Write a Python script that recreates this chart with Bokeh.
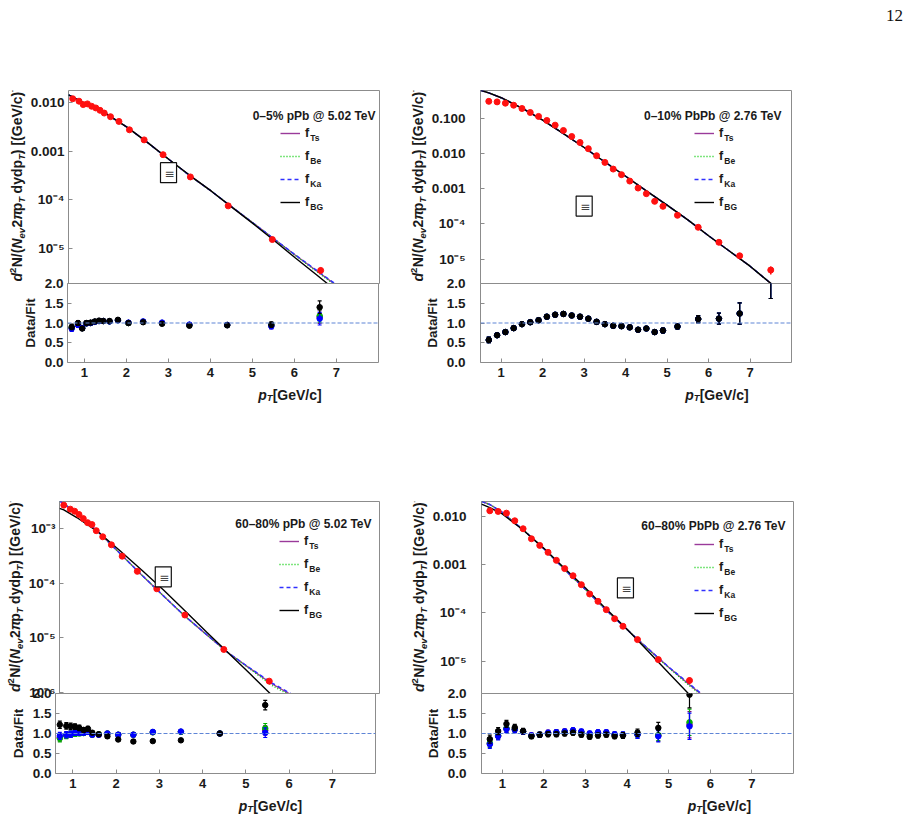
import math
from bokeh.plotting import figure
from bokeh.models import (Range1d, FixedTicker, PrintfTickFormatter, Label, Legend,
                          LegendItem, Span, Div, Spacer)
from bokeh.layouts import column, row
from bokeh.embed import file_html
from bokeh.resources import INLINE
from bokeh.core.validation import silence
from bokeh.core.validation.warnings import MISSING_RENDERERS

silence(MISSING_RENDERERS, True)

# ---------------------------------------------------------------- data
# Panel 1 : 0-5% pPb @ 5.02 TeV
p1_pt = [0.7, 0.85, 0.95, 1.05, 1.15, 1.25, 1.35, 1.45, 1.6, 1.8, 2.05, 2.4, 2.85, 3.5, 4.4, 5.45, 6.6]
p1_yield = [1.18e-2, 1.05e-2, 8.95e-3, 9.25e-3, 8.26e-3, 7.63e-3, 6.83e-3, 6.0e-3, 5.05e-3,
            4.04e-3, 2.72e-3, 1.69e-3, 8.4e-4, 2.94e-4, 7.5e-5, 1.53e-5, 3.56e-6]
p1_relerr = [0.05, 0.05, 0.05, 0.05, 0.05, 0.05, 0.05, 0.05, 0.05, 0.05, 0.05, 0.05, 0.05, 0.05, 0.06, 0.08, 0.15]
p1_fit_pt = [0.6, 1.0, 1.5, 2.0, 2.5, 3.0, 3.5, 4.0, 4.5, 5.0, 5.5, 6.0, 6.5, 7.0]
p1_fit_ts = [1.42e-2, 9.3e-3, 5.75e-3, 3.05e-3, 1.45e-3, 6.6e-4, 3.05e-4, 1.5e-4, 7.0e-5, 3.3e-5, 1.55e-5, 7.3e-6, 3.5e-6, 1.7e-6]
p1_fit_be = [1.42e-2, 9.3e-3, 5.75e-3, 3.05e-3, 1.45e-3, 6.6e-4, 3.05e-4, 1.5e-4, 7.0e-5, 3.3e-5, 1.55e-5, 7.2e-6, 3.4e-6, 1.65e-6]
p1_fit_ka = [1.42e-2, 9.3e-3, 5.75e-3, 3.05e-3, 1.45e-3, 6.6e-4, 3.05e-4, 1.5e-4, 7.0e-5, 3.3e-5, 1.55e-5, 7.4e-6, 3.6e-6, 1.75e-6]
p1_fit_bg = [1.42e-2, 9.3e-3, 5.75e-3, 3.05e-3, 1.45e-3, 6.6e-4, 3.1e-4, 1.5e-4, 6.9e-5, 3.2e-5, 1.45e-5, 6.4e-6, 2.9e-6, 1.3e-6]
p1_ratio_ts = [0.87, 0.96, 0.87, 0.99, 1.0, 1.03, 1.05, 1.05, 1.04, 1.07, 1.0, 1.03, 1.0, 0.95, 0.95, 0.93, 1.15]
p1_ratio_be = [0.88, 0.97, 0.87, 0.99, 1.0, 1.03, 1.05, 1.05, 1.04, 1.07, 1.0, 1.03, 1.0, 0.95, 0.95, 0.94, 1.18]
p1_ratio_ka = [0.86, 0.95, 0.87, 0.99, 1.0, 1.03, 1.05, 1.05, 1.04, 1.07, 1.01, 1.04, 1.01, 0.96, 0.95, 0.92, 1.11]
p1_ratio_bg = [0.90, 1.0, 0.86, 1.0, 1.01, 1.04, 1.06, 1.05, 1.05, 1.08, 1.0, 1.02, 0.98, 0.93, 0.94, 0.96, 1.40]
p1_ratio_err = [0.07, 0.06, 0.05, 0.05, 0.05, 0.04, 0.04, 0.04, 0.04, 0.04, 0.04, 0.04, 0.04, 0.04, 0.04, 0.07, 0.16]

# Panel 2 : 0-10% PbPb @ 2.76 TeV
p2_pt = [0.7, 0.9, 1.1, 1.3, 1.5, 1.7, 1.9, 2.1, 2.3, 2.5, 2.7, 2.9, 3.1, 3.3, 3.5, 3.7, 3.9,
         4.1, 4.3, 4.5, 4.7, 4.9, 5.25, 5.75, 6.25, 6.75, 7.5]
p2_yield = [0.30, 0.29, 0.266, 0.233, 0.188, 0.145, 0.112, 0.086, 0.0634, 0.0447, 0.0302, 0.0204,
            0.0136, 0.0086, 0.00556, 0.00359, 0.00249, 0.00164, 0.00104, 7.2e-4, 4.36e-4, 3.15e-4,
            1.75e-4, 8.0e-5, 3.0e-5, 1.24e-5, 4.9e-6]
p2_relerr = [0.12, 0.04, 0.04, 0.04, 0.04, 0.04, 0.04, 0.04, 0.04, 0.04, 0.04, 0.04, 0.04, 0.04,
             0.04, 0.04, 0.04, 0.04, 0.05, 0.05, 0.06, 0.06, 0.06, 0.08, 0.1, 0.15, 0.25]
p2_fit_pt = [0.5, 0.7, 1.0, 1.5, 2.0, 2.5, 3.0, 3.5, 4.0, 4.5, 5.0, 5.5, 6.0, 6.5, 7.0, 7.5, 7.7]
p2_fit_all = [0.62, 0.52, 0.38, 0.194, 0.088, 0.0363, 0.0147, 0.0057, 0.00224, 8.6e-4, 3.4e-4,
              1.3e-4, 4.6e-5, 1.7e-5, 6.3e-6, 2.05e-6, 1.3e-6]
p2_ratio_all = [0.57, 0.69, 0.77, 0.87, 0.97, 1.02, 1.07, 1.16, 1.21, 1.23, 1.19, 1.16, 1.11, 1.03,
                0.97, 0.93, 0.92, 0.89, 0.83, 0.86, 0.77, 0.81, 0.91, 1.10, 1.11, 1.24, 2.40]
p2_ratio_err = [0.07, 0.05, 0.05, 0.05, 0.05, 0.05, 0.05, 0.05, 0.05, 0.05, 0.05, 0.05, 0.05, 0.05,
                0.05, 0.05, 0.05, 0.05, 0.05, 0.05, 0.05, 0.06, 0.06, 0.09, 0.14, 0.27, 0.78]

# Panel 3 : 60-80% pPb @ 5.02 TeV
p3_pt = [0.7, 0.85, 0.95, 1.05, 1.15, 1.25, 1.35, 1.45, 1.6, 1.8, 2.05, 2.4, 2.85, 3.5, 4.4, 5.45]
p3_yield = [2.70e-3, 2.28e-3, 2.09e-3, 1.82e-3, 1.53e-3, 1.29e-3, 1.19e-3, 9.2e-4, 7.1e-4,
            5.06e-4, 3.13e-4, 1.65e-4, 7.9e-5, 2.61e-5, 6.1e-6, 1.60e-6]
p3_relerr = [0.07, 0.06, 0.06, 0.06, 0.06, 0.05, 0.05, 0.05, 0.05, 0.05, 0.05, 0.05, 0.05, 0.05, 0.05, 0.08]
p3_fit_pt = [0.6, 0.7, 1.0, 1.5, 2.0, 2.5, 3.0, 3.5, 4.0, 4.5, 5.0, 5.5, 6.0]
p3_fit_ts = [3.24e-3, 2.87e-3, 1.88e-3, 8.7e-4, 3.5e-4, 1.42e-4, 5.9e-5, 2.49e-5, 1.14e-5, 5.3e-6, 2.75e-6, 1.45e-6, 8.6e-7]
p3_fit_be = [3.24e-3, 2.87e-3, 1.88e-3, 8.7e-4, 3.5e-4, 1.42e-4, 5.9e-5, 2.49e-5, 1.14e-5, 5.3e-6, 2.7e-6, 1.35e-6, 8.2e-7]
p3_fit_ka = [3.24e-3, 2.87e-3, 1.88e-3, 8.7e-4, 3.5e-4, 1.42e-4, 5.9e-5, 2.49e-5, 1.15e-5, 5.3e-6, 2.8e-6, 1.5e-6, 9.0e-7]
p3_fit_bg = [2.35e-3, 2.21e-3, 1.6e-3, 8.6e-4, 3.95e-4, 1.75e-4, 7.6e-5, 3.14e-5, 1.27e-5, 5.3e-6, 2.2e-6, 9.0e-7, 3.8e-7]
p3_ratio_ts = [0.90, 0.96, 0.98, 1.01, 1.02, 1.02, 1.04, 0.97, 0.97, 1.0, 0.97, 0.97, 1.03, 1.04, 1.0, 1.08]
p3_ratio_be = [0.88, 0.95, 0.98, 1.0, 1.01, 1.01, 1.04, 0.97, 0.98, 1.0, 0.97, 0.97, 1.03, 1.04, 1.0, 1.13]
p3_ratio_ka = [0.94, 0.97, 0.98, 1.02, 1.02, 1.02, 1.04, 0.97, 0.97, 1.0, 0.97, 0.97, 1.04, 1.05, 1.0, 1.02]
p3_ratio_bg = [1.22, 1.19, 1.18, 1.17, 1.14, 1.09, 1.12, 1.02, 0.98, 0.93, 0.85, 0.80, 0.81, 0.83, 1.0, 1.71]
p3_ratio_err = [0.09, 0.08, 0.08, 0.07, 0.07, 0.06, 0.06, 0.05, 0.05, 0.05, 0.05, 0.05, 0.04, 0.04, 0.03, 0.12]

# Panel 4 : 60-80% PbPb @ 2.76 TeV
p4_pt = [0.7, 0.9, 1.1, 1.3, 1.5, 1.7, 1.9, 2.1, 2.3, 2.5, 2.7, 2.9, 3.1, 3.3, 3.5, 3.7, 3.9, 4.25, 4.75, 5.5]
p4_yield = [0.0131, 0.0127, 0.0117, 0.00813, 0.00556, 0.00345, 0.00251, 0.0018, 0.00123, 8.3e-4,
            5.9e-4, 3.85e-4, 2.47e-4, 1.74e-4, 1.17e-4, 7.6e-5, 5.3e-5, 2.8e-5, 1.08e-5, 3.98e-6]
p4_relerr = [0.1, 0.07, 0.07, 0.06, 0.05, 0.05, 0.05, 0.05, 0.05, 0.05, 0.05, 0.05, 0.05, 0.05,
             0.05, 0.06, 0.06, 0.07, 0.1, 0.15]
p4_fit_pt = [0.5, 0.7, 1.0, 1.5, 2.0, 2.5, 3.0, 3.5, 4.0, 4.5, 5.0, 5.5, 6.0]
p4_fit_ts = [0.0205, 0.0177, 0.0122, 0.0053, 0.00214, 7.9e-4, 3.05e-4, 1.14e-4, 4.5e-5, 1.82e-5, 7.5e-6, 3.25e-6, 1.45e-6]
p4_fit_be = [0.0205, 0.0177, 0.0122, 0.0053, 0.00214, 7.9e-4, 3.05e-4, 1.14e-4, 4.5e-5, 1.8e-5, 7.3e-6, 3.1e-6, 1.4e-6]
p4_fit_ka = [0.0205, 0.0177, 0.0122, 0.0053, 0.00213, 7.9e-4, 3.05e-4, 1.14e-4, 4.5e-5, 1.83e-5, 7.6e-6, 3.37e-6, 1.5e-6]
p4_fit_bg = [0.018, 0.0152, 0.0113, 0.00525, 0.00218, 8.3e-4, 3.3e-4, 1.2e-4, 4.6e-5, 1.62e-5, 5.7e-6, 2.02e-6, 7.0e-7]
p4_ratio_ts = [0.75, 0.94, 1.12, 1.10, 1.05, 0.95, 0.97, 1.02, 1.03, 1.05, 1.07, 1.04, 0.99, 1.02, 1.02, 0.97, 0.96, 0.98, 0.95, 1.22]
p4_ratio_be = [0.76, 0.95, 1.13, 1.11, 1.05, 0.94, 0.97, 1.01, 1.02, 1.04, 1.06, 1.03, 0.98, 1.01, 1.01, 0.97, 0.96, 0.98, 0.96, 1.28]
p4_ratio_ka = [0.73, 0.93, 1.11, 1.10, 1.05, 0.95, 0.97, 1.02, 1.03, 1.05, 1.08, 1.05, 1.0, 1.03, 1.03, 0.98, 0.97, 0.97, 0.93, 1.18]
p4_ratio_bg = [0.86, 1.06, 1.24, 1.15, 1.06, 0.93, 0.97, 0.98, 0.98, 1.0, 1.02, 0.97, 0.92, 0.95, 0.97, 0.93, 0.95, 1.02, 1.14, 1.97]
p4_ratio_err = [0.10, 0.09, 0.09, 0.08, 0.07, 0.06, 0.06, 0.06, 0.06, 0.06, 0.06, 0.06, 0.06, 0.06, 0.06, 0.06, 0.07, 0.09, 0.14, 0.33]

panel_titles = ["0\u20135% pPb @ 5.02 TeV", "0\u201310% PbPb @ 2.76 TeV",
                "60\u201380% pPb @ 5.02 TeV", "60\u201380% PbPb @ 2.76 TeV"]
fit_names = ["Ts", "Be", "Ka", "BG"]
x_ticks = [1, 2, 3, 4, 5, 6, 7]
ratio_ticks = [0.0, 0.5, 1.0, 1.5, 2.0]

# ---------------------------------------------------------------- style
FONT = "Liberation Sans"
FRAME = "#8c8c8c"
TXT = "#1a1a1a"
FIT_COL = {"Ts": "#9a3a9a", "Be": "#00cc00", "Ka": "#3030ff", "BG": "#000000"}
FIT_DASH = {"Ts": "solid", "Be": "1 2", "Ka": "4 3", "BG": "solid"}
PT_COL = {"Ts": "#800080", "Be": "#00b000", "Ka": "#0000ff", "BG": "#000000"}

# Liberation Sans Bold advance widths (1/1000 em)
AW = {"d": 611, "2": 556, "N": 722, "/": 278, "(": 333, ")": 333, "e": 556, "v": 556,
      "\u03c0": 600, "p": 611, "T": 611, " ": 278, "y": 556, "[": 333, "]": 333, "G": 778,
      "V": 667, "c": 556, "\u2212": 584, "f": 333}
MID = 0.3465  # em-box middle above the baseline


def tw(s, size):
    return sum(AW.get(ch, 600) for ch in s) * size / 1000.0


# (text, size, style, baseline shift, extra gap after)
YLAB = [("d", 14, "bold italic", 0, 0), ("2", 9.5, "bold", 5.5, 0.5), ("N/(", 14, "bold", 0, 0),
        ("N", 14, "bold italic", 0, 0), ("ev", 9.5, "bold italic", -3, 0.5), ("2", 14, "bold", 0, 0),
        ("\u03c0", 14, "bold italic", 0, 0), ("p", 14, "bold", 0, 0), ("T", 9.5, "bold italic", -3, 3.5),
        ("dydp", 14, "bold", 0, 0), ("T", 9.5, "bold italic", -3, 0), (") [(GeV/c)", 14, "bold", 0, 0),
        ("\u22122", 9.5, "bold", 5.5, 0), ("]", 14, "bold", 0, 0)]
XLAB = [("p", 14, "bold italic", 0, 0), ("T", 9.5, "bold italic", -3, 0), ("[GeV/c]", 14, "bold", 0, 0)]


def style_axis(ax, size="13.5px"):
    ax.axis_line_color = None
    ax.major_tick_in = 4
    ax.major_tick_out = 0
    ax.minor_tick_line_color = None
    ax.major_tick_line_color = FRAME
    ax.major_label_text_font = FONT
    ax.major_label_text_font_style = "bold"
    ax.major_label_text_font_size = size
    ax.major_label_text_color = TXT


def strip(width, height):
    s = figure(width=width, height=height, x_range=Range1d(0, 1), y_range=Range1d(0, 1),
               x_axis_location=None, y_axis_location=None, output_backend="svg",
               toolbar_location=None, min_border_left=0, min_border_right=0,
               min_border_top=0, min_border_bottom=0)
    s.outline_line_color = None
    s.grid.visible = False
    s.background_fill_color = None
    s.border_fill_color = None
    return s


RB = 24   # ratio bottom border
XS = 20   # x-label strip height


def build_panel(cfg):
    fw, fh, rh, bl, br, bt = cfg["fw"], cfg["fh"], cfg["rh"], cfg["bl"], cfg["br"], cfg["bt"]
    sw = cfg["sw"]
    xr = Range1d(cfg["xmin"], 8.0)
    main = figure(frame_width=fw, frame_height=fh, x_range=xr,
                  y_range=Range1d(cfg["ymin"], cfg["ymax"]), y_axis_type="log",
                  x_axis_location=None, output_backend="svg", toolbar_location=None,
                  min_border_left=bl - sw, min_border_right=br,
                  min_border_top=bt, min_border_bottom=8)
    main.outline_line_color = FRAME
    main.grid.visible = False
    style_axis(main.yaxis[0])
    main.yaxis.ticker = FixedTicker(ticks=cfg["yticks"], minor_ticks=[])
    main.yaxis.major_label_overrides = dict(zip(cfg["yticks"], cfg["ylabels"]))
    main.yaxis.major_label_standoff = cfg["ls"]

    rends = []
    for name in fit_names:
        r = main.line(cfg["fit_pt"], cfg["fits"][name], line_color=FIT_COL[name],
                      line_dash=FIT_DASH[name], line_width=1.4)
        rends.append(r)
    pt, yv, rel = cfg["pt"], cfg["yield"], cfg["relerr"]
    lo = [v * (1 - e) for v, e in zip(yv, rel)]
    hi = [v * (1 + e) for v, e in zip(yv, rel)]
    main.segment(pt, lo, pt, hi, line_color="#ff0000", line_width=1.5)
    main.scatter(pt, yv, size=6, fill_color="#ff1010", line_color="#ff1010")

    lx = cfg["lx"]
    H = 4 * 20 + 3 * 3
    ly = fh - cfg["ltop"] - H
    leg = Legend(items=[LegendItem(label="f", renderers=[r]) for r in rends],
                 location=(lx, ly), glyph_width=20, glyph_height=20, label_height=20,
                 spacing=3, padding=0, margin=0, label_standoff=5,
                 border_line_color=None, background_fill_alpha=0,
                 label_text_font=FONT, label_text_font_style="bold",
                 label_text_font_size="12.5px", label_text_color=TXT)
    main.add_layout(leg)
    for i, name in enumerate(fit_names):
        cy = ly + H - (i * 23 + 10)
        main.add_layout(Label(x=lx + 25 + tw("f", 12.5) + 0.6, y=cy - 4, x_units="screen",
                              y_units="screen", text=name, text_font=FONT,
                              text_font_style="bold", text_font_size="8.5px",
                              text_baseline="middle", text_color=TXT))
    main.add_layout(Label(x=fw - cfg["toff"], y=fh - cfg["ty"], x_units="screen", y_units="screen",
                          text=cfg["title"], text_align="right", text_baseline="middle",
                          text_font=FONT, text_font_style="bold", text_font_size="12px",
                          text_color=TXT))
    main.add_layout(Label(x=cfg["box"][0], y=cfg["box"][1], text="\u2261", text_align="center",
                          text_baseline="middle", text_font="DejaVu Sans", text_font_size="12px",
                          border_line_color="#111111", border_line_width=1.2,
                          background_fill_color="white", padding=(4, 2, 4, 2)))

    # rotated y label, drawn in its own strip left of the main plot
    ys = strip(sw, bt + fh + 8)
    total = sum(tw(t, s) + g for t, s, st, sh, g in YLAB)
    pos = 8 + fh / 2 - total / 2
    for t, s, st, sh, g in YLAB:
        ys.add_layout(Label(x=cfg["ybase"] - sh - MID * s, y=pos, x_units="screen", y_units="screen",
                            text=t, angle=math.pi / 2, text_font=FONT, text_font_size=f"{s}px",
                            text_font_style=st, text_align="left", text_baseline="middle",
                            text_color=TXT))
        pos += tw(t, s) + g

    # ratio panel
    ratio = figure(frame_width=fw, frame_height=rh, x_range=xr, y_range=Range1d(0, 2),
                   output_backend="svg", toolbar_location=None,
                   min_border_left=bl, min_border_right=br,
                   min_border_top=8, min_border_bottom=RB, margin=(-16, 0, 0, 0))
    ratio.border_fill_color = None
    ratio.outline_line_color = FRAME
    ratio.grid.visible = False
    style_axis(ratio.xaxis[0], "13px")
    style_axis(ratio.yaxis[0])
    ratio.xaxis.ticker = FixedTicker(ticks=x_ticks, minor_ticks=[])
    ratio.xaxis.major_label_standoff = 5
    ratio.yaxis.ticker = FixedTicker(ticks=ratio_ticks, minor_ticks=[])
    ratio.yaxis.formatter = PrintfTickFormatter(format="%.1f")
    ratio.yaxis.major_label_standoff = cfg["ls"]
    ratio.yaxis.axis_label = "Data/Fit"
    ratio.yaxis.axis_label_text_font = FONT
    ratio.yaxis.axis_label_text_font_style = "bold"
    ratio.yaxis.axis_label_text_font_size = "13.5px"
    ratio.yaxis.axis_label_text_color = TXT
    ratio.yaxis.axis_label_standoff = 4
    ratio.add_layout(Span(location=1.0, dimension="width", line_color="#5f85d6",
                          line_dash="4 2", line_width=1.2))
    err = cfg["rerr"]
    for name in fit_names:
        rv = cfg["ratios"][name]
        rlo = [a - b for a, b in zip(rv, err)]
        rhi = [a + b for a, b in zip(rv, err)]
        c = PT_COL[name]
        ratio.segment(pt, rlo, pt, rhi, line_color=c, line_width=1.2)
        ratio.scatter(pt, rhi, marker="dash", size=4, line_color=c, line_width=1.2)
        ratio.scatter(pt, rlo, marker="dash", size=4, line_color=c, line_width=1.2)
        ratio.scatter(pt, rv, size=5.5, fill_color=c, line_color=c)

    # x label strip
    xs = strip(bl + fw + br, XS)
    total = sum(tw(t, s) + g for t, s, st, sh, g in XLAB)
    pos = bl + fw / 2 - total / 2
    for t, s, st, sh, g in XLAB:
        xs.add_layout(Label(x=pos, y=12 + sh, x_units="screen", y_units="screen", text=t,
                            text_font=FONT, text_font_size=f"{s}px", text_font_style=st,
                            text_align="left", text_baseline="alphabetic", text_color=TXT))
        pos += tw(t, s) + g
    return column(row(ys, main), ratio, xs)


cfgs = [
    dict(title=panel_titles[0], xmin=0.6, fw=311, fh=193, rh=79, bl=67, br=20, bt=60, sw=27, ybase=21,
         ymin=1.92e-6, ymax=1.74e-2, yticks=[1e-5, 1e-4, 1e-3, 1e-2],
         ylabels=["10\u207b\u2075", "10\u207b\u2074", "0.001", "0.010"], ls=4,
         toff=4, ty=25, lx=212, ltop=33, box=(2.98, 3.6e-4),
         pt=p1_pt, yield_=p1_yield, relerr=p1_relerr, fit_pt=p1_fit_pt,
         fits={"Ts": p1_fit_ts, "Be": p1_fit_be, "Ka": p1_fit_ka, "BG": p1_fit_bg},
         ratios={"Ts": p1_ratio_ts, "Be": p1_ratio_be, "Ka": p1_ratio_ka, "BG": p1_ratio_bg},
         rerr=p1_ratio_err),
    dict(title=panel_titles[1], xmin=0.5, fw=311, fh=193, rh=79, bl=81, br=30, bt=60, sw=29, ybase=23,
         ymin=2.03e-6, ymax=0.61, yticks=[1e-5, 1e-4, 1e-3, 1e-2, 1e-1],
         ylabels=["10\u207b\u2075", "10\u207b\u2074", "0.001", "0.010", "0.100"], ls=15,
         toff=10, ty=25, lx=214, ltop=33, box=(3.0, 3.2e-4),
         pt=p2_pt, yield_=p2_yield, relerr=p2_relerr, fit_pt=p2_fit_pt,
         fits={"Ts": p2_fit_all, "Be": p2_fit_all, "Ka": p2_fit_all, "BG": p2_fit_all},
         ratios={"Ts": p2_ratio_all, "Be": p2_ratio_all, "Ka": p2_ratio_all, "BG": p2_ratio_all},
         rerr=p2_ratio_err),
    dict(title=panel_titles[2], xmin=0.6, fw=320, fh=192, rh=80, bl=55, br=20, bt=95, sw=25, ybase=19,
         ymin=9.5e-7, ymax=3.15e-3, yticks=[1e-6, 1e-5, 1e-4, 1e-3],
         ylabels=["10\u207b\u2076", "10\u207b\u2075", "10\u207b\u2074", "10\u207b\u00b3"], ls=4,
         toff=8, ty=22, lx=220, ltop=30, box=(3.0, 1.31e-4),
         pt=p3_pt, yield_=p3_yield, relerr=p3_relerr, fit_pt=p3_fit_pt,
         fits={"Ts": p3_fit_ts, "Be": p3_fit_be, "Ka": p3_fit_ka, "BG": p3_fit_bg},
         ratios={"Ts": p3_ratio_ts, "Be": p3_ratio_be, "Ka": p3_ratio_ka, "BG": p3_ratio_bg},
         rerr=p3_ratio_err),
    dict(title=panel_titles[3], xmin=0.5, fw=312, fh=192, rh=80, bl=82, br=30, bt=95, sw=30, ybase=24,
         ymin=2.14e-6, ymax=2.04e-2, yticks=[1e-5, 1e-4, 1e-3, 1e-2],
         ylabels=["10\u207b\u2075", "10\u207b\u2074", "0.001", "0.010"], ls=15,
         toff=8, ty=24, lx=213, ltop=33, box=(3.96, 3.3e-4),
         pt=p4_pt, yield_=p4_yield, relerr=p4_relerr, fit_pt=p4_fit_pt,
         fits={"Ts": p4_fit_ts, "Be": p4_fit_be, "Ka": p4_fit_ka, "BG": p4_fit_bg},
         ratios={"Ts": p4_ratio_ts, "Be": p4_ratio_be, "Ka": p4_ratio_ka, "BG": p4_ratio_bg},
         rerr=p4_ratio_err),
]
for c in cfgs:
    c["yield"] = c.pop("yield_")

panels = [build_panel(c) for c in cfgs]

header = row(Spacer(width=886, height=30),
             Div(text="12", width=29, height=26, margin=(4, 0, 0, 0),
                 styles={"font-family": "Liberation Serif", "font-size": "17px",
                         "color": "#111"}))
layout = column(header, row(panels[0], panels[1]), row(panels[2], panels[3]))

open("out.html", "w").write(file_html(layout, INLINE))
